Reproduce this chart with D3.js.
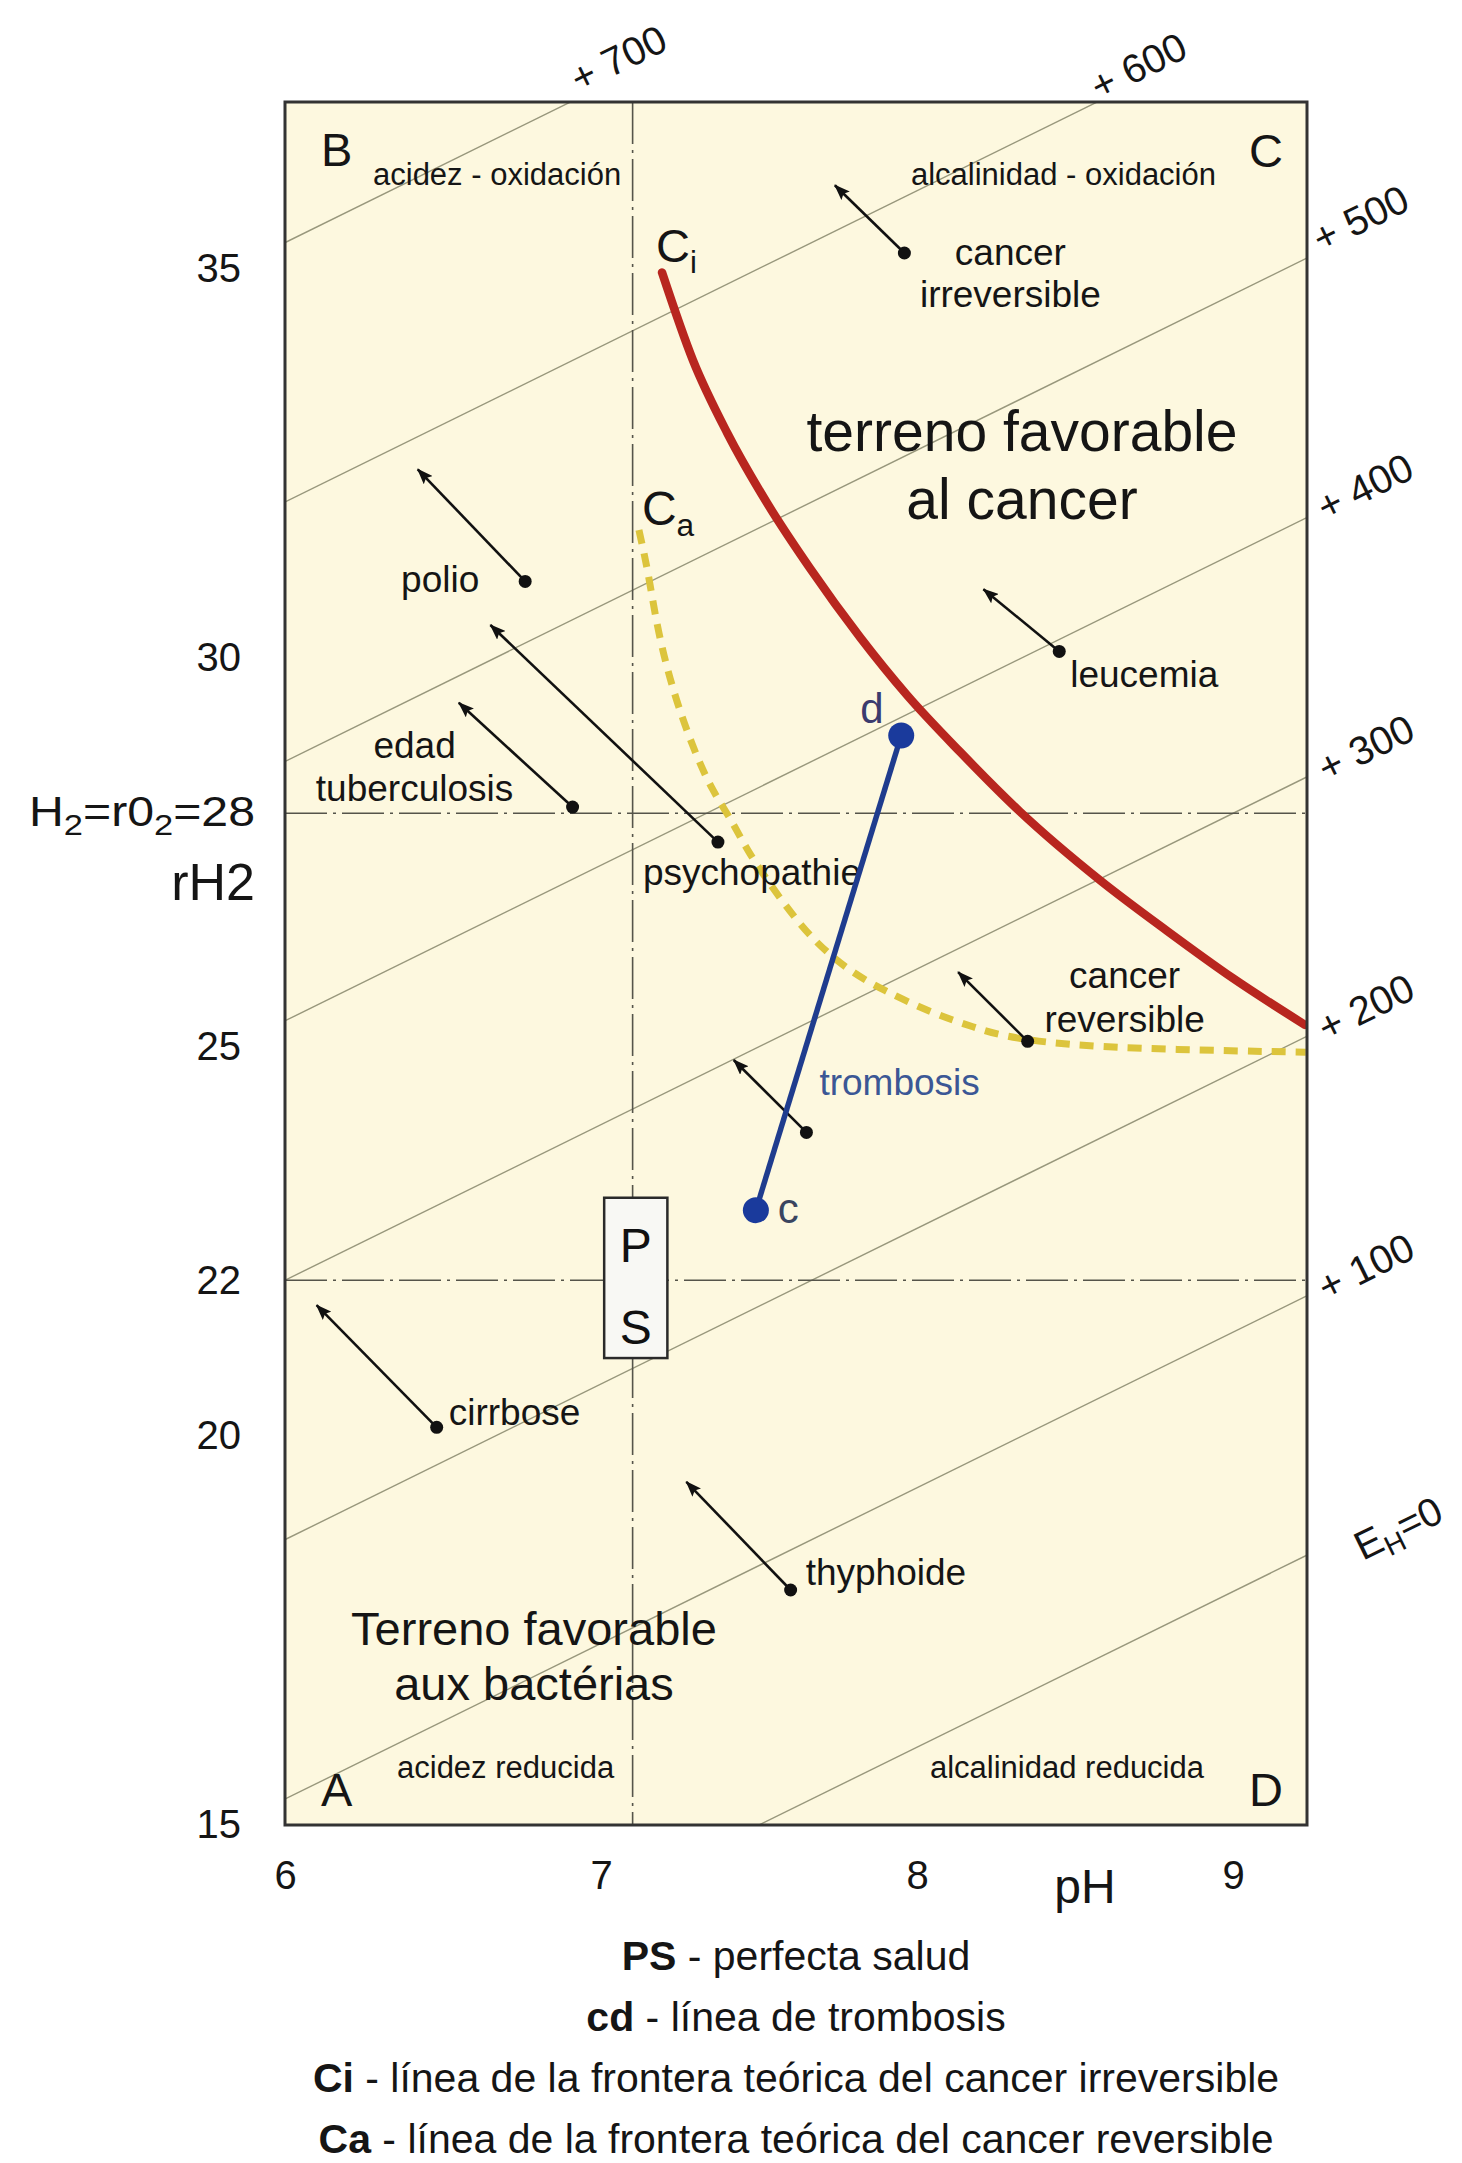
<!DOCTYPE html>
<html>
<head>
<meta charset="utf-8">
<script src="https://cdn.jsdelivr.net/npm/d3@7"></script>
<style>
  body { margin: 0; background: #fff; }
  text { font-family: "Liberation Sans", Arial, Helvetica, sans-serif; }
</style>
</head>
<body>
<div id="chart"></div>
<script>
// --- data ---
var xTicks = [6, 7, 8, 9];
var yTicks = [15, 20, 22, 25, 30, 35];
var neutralPH = 7.1;
var referenceRH = [22, 28];

// Eh isolines, mV  (rH2 = 2 pH + Eh/30)
var ehValues = [0, 100, 200, 300, 400, 500, 600, 700];
var ehNames = ["=0", "+ 100", "+ 200", "+ 300", "+ 400", "+ 500", "+ 600", "+ 700"];
var ehLabelPH = [9.50, 9.42, 9.42, 9.42, 9.42, 9.42, 8.72, 7.08];

// Ci : boundary of irreversible cancer
var ciPH = [7.193, 7.291, 7.399, 7.525, 7.661, 7.820, 7.968, 8.136, 8.326, 8.579, 8.791, 9.000, 9.228];
var ciRH = [34.95, 33.82, 32.89, 31.99, 31.15, 30.26, 29.52, 28.79, 28.02, 27.14, 26.49, 25.88, 25.28];

// Ca : boundary of reversible cancer
var caPH = [7.12, 7.15, 7.18, 7.23, 7.29, 7.35, 7.42, 7.46, 7.57, 7.67, 7.78, 7.89, 8.05, 8.18, 8.29, 8.58, 9.23];
var caRH = [31.64, 31.09, 30.32, 29.54, 28.85, 28.30, 27.87, 27.53, 26.88, 26.37, 25.99, 25.73, 25.43, 25.25, 25.11, 24.98, 24.93];

// cd : line of thrombosis
var cdNames = ["c", "d"];
var cdPH = [7.49, 7.95];
var cdRH = [22.90, 29.00];

// PS : perfect health box
var psPH = [7.01, 7.21];
var psRH = [21.0, 23.06];

// diseases: point + direction of the arrow
var diseaseNames = [["cancer", "irreversible"], ["polio"], ["leucemia"], ["edad", "tuberculosis"],
  ["psychopathie"], ["cancer", "reversible"], ["trombosis"], ["cirrbose"], ["thyphoide"]];
var diseasePH = [7.96, 6.76, 8.45, 6.91, 7.37, 8.35, 7.65, 6.48, 7.60];
var diseaseRH = [35.20, 30.98, 30.08, 28.08, 27.63, 25.07, 23.90, 20.11, 18.02];
var arrowPH = [7.74, 6.42, 8.21, 6.55, 6.65, 8.13, 7.42, 6.10, 7.27];
var arrowRH = [36.07, 32.42, 30.88, 29.42, 30.42, 25.96, 24.83, 21.68, 19.41];

var notes = [["PS", " - perfecta salud"], ["cd", " - línea de trombosis"],
  ["Ci", " - línea de la frontera teórica del cancer irreversible"],
  ["Ca", " - línea de la frontera teórica del cancer reversible"]];

// --- layout ---
var width = 1462, height = 2163;
var svg = d3.select("#chart").append("svg")
    .attr("width", width).attr("height", height)
    .attr("viewBox", [0, 0, width, height]);

var x = d3.scaleLinear().domain([6, 9.234]).range([285, 1307]);
var y = d3.scaleLinear().domain([15, 37.14]).range([1825, 102]);
var x0 = x.range()[0], x1 = x.range()[1], yb = y.range()[0], yt = y.range()[1];

svg.append("defs").append("clipPath").attr("id", "plot")
  .append("rect").attr("x", x0).attr("y", yt).attr("width", x1 - x0).attr("height", yb - yt);

svg.select("defs").append("marker")
    .attr("id", "head").attr("markerUnits", "userSpaceOnUse")
    .attr("markerWidth", 16).attr("markerHeight", 12)
    .attr("refX", 15).attr("refY", 6).attr("orient", "auto")
  .append("path").attr("d", "M0,0L16,6L0,12L3,6Z").attr("fill", "#111");

svg.append("rect")
    .attr("x", x0).attr("y", yt).attr("width", x1 - x0).attr("height", yb - yt)
    .attr("fill", "#fdf8df");

var plot = svg.append("g").attr("clip-path", "url(#plot)");

// Eh isolines
var ehRH = function(ph, eh) { return 2 * ph + eh / 30; };
plot.selectAll(".eh").data(ehValues).join("line")
    .attr("class", "eh")
    .attr("x1", x(5)).attr("y1", function(d) { return y(ehRH(5, d)); })
    .attr("x2", x(10)).attr("y2", function(d) { return y(ehRH(10, d)); })
    .attr("stroke", "#98977c").attr("stroke-width", 1.4);

// neutral / reference lines
plot.append("line")
    .attr("x1", x(neutralPH)).attr("x2", x(neutralPH)).attr("y1", yt).attr("y2", yb)
    .attr("stroke", "#55544a").attr("stroke-width", 1.6).attr("stroke-dasharray", "42,6,3,6");
plot.selectAll(".ref").data(referenceRH).join("line")
    .attr("class", "ref")
    .attr("x1", x0).attr("x2", x1)
    .attr("y1", function(d) { return y(d); }).attr("y2", function(d) { return y(d); })
    .attr("stroke", "#55544a").attr("stroke-width", 1.6).attr("stroke-dasharray", "42,6,3,6");

var curve = d3.line().x(function(d) { return x(d[0]); }).y(function(d) { return y(d[1]); })
    .curve(d3.curveMonotoneX);

plot.append("path").datum(d3.zip(caPH, caRH))
    .attr("d", curve.curve(d3.curveBasis)).attr("fill", "none")
    .attr("stroke", "#dcc43c").attr("stroke-width", 7).attr("stroke-dasharray", "14,10");

plot.append("path").datum(d3.zip(ciPH, ciRH))
    .attr("d", curve.curve(d3.curveMonotoneX)).attr("fill", "none")
    .attr("stroke", "#b8261f").attr("stroke-width", 8.5).attr("stroke-linecap", "round");

// PS box
svg.append("rect")
    .attr("x", x(psPH[0])).attr("y", y(psRH[1]))
    .attr("width", x(psPH[1]) - x(psPH[0])).attr("height", y(psRH[0]) - y(psRH[1]))
    .attr("fill", "#f8f8f4").attr("stroke", "#2a2a2a").attr("stroke-width", 2.5);
var psMid = (x(psPH[0]) + x(psPH[1])) / 2;
svg.append("text").attr("x", psMid).attr("y", y(psRH[1]) + 64).attr("text-anchor", "middle")
    .attr("font-size", 48).attr("fill", "#111").text("P");
svg.append("text").attr("x", psMid).attr("y", y(psRH[0]) - 14).attr("text-anchor", "middle")
    .attr("font-size", 48).attr("fill", "#111").text("S");

// disease arrows
var dis = svg.append("g");
diseaseNames.forEach(function(name, i) {
  dis.append("line")
      .attr("x1", x(diseasePH[i])).attr("y1", y(diseaseRH[i]))
      .attr("x2", x(arrowPH[i])).attr("y2", y(arrowRH[i]))
      .attr("stroke", "#111").attr("stroke-width", 2.6).attr("marker-end", "url(#head)");
  dis.append("circle")
      .attr("cx", x(diseasePH[i])).attr("cy", y(diseaseRH[i])).attr("r", 6.5).attr("fill", "#111");
});

var labelLayout = [
  {anchor: "middle", dx: 106, dy: 12, lh: 42},
  {anchor: "middle", dx: -85, dy: 11},
  {anchor: "start", dx: 11, dy: 36},
  {anchor: "middle", dx: -158, dy: -49, lh: 43},
  {anchor: "start", dx: -75, dy: 43},
  {anchor: "middle", dx: 97, dy: -53, lh: 44},
  {anchor: "start", dx: 13, dy: -37, color: "#3b5795"},
  {anchor: "start", dx: 12, dy: -2},
  {anchor: "start", dx: 15, dy: -5}
];
diseaseNames.forEach(function(lines, i) {
  var L = labelLayout[i];
  lines.forEach(function(t, j) {
    dis.append("text")
        .attr("x", x(diseasePH[i]) + L.dx)
        .attr("y", y(diseaseRH[i]) + L.dy + j * (L.lh || 0))
        .attr("text-anchor", L.anchor)
        .attr("font-size", 37).attr("fill", L.color || "#151515")
        .text(t);
  });
});

// thrombosis line cd
svg.append("line")
    .attr("x1", x(cdPH[0])).attr("y1", y(cdRH[0]))
    .attr("x2", x(cdPH[1])).attr("y2", y(cdRH[1]))
    .attr("stroke", "#1f3c8e").attr("stroke-width", 5.5);
svg.selectAll(".cd").data(d3.range(cdPH.length)).join("circle")
    .attr("class", "cd")
    .attr("cx", function(i) { return x(cdPH[i]); }).attr("cy", function(i) { return y(cdRH[i]); })
    .attr("r", 13).attr("fill", "#1a3a9c");
svg.append("text").attr("x", x(cdPH[0]) + 22).attr("y", y(cdRH[0]) + 13)
    .attr("font-size", 42).attr("fill", "#3a4560").text(cdNames[0]);
svg.append("text").attr("x", x(cdPH[1]) - 41).attr("y", y(cdRH[1]) - 12)
    .attr("font-size", 42).attr("fill", "#3b3b6e").text(cdNames[1]);

// curve names
function subLabel(px, py, main, sub, size) {
  var t = svg.append("text").attr("x", px).attr("y", py).attr("font-size", size).attr("fill", "#151515");
  t.append("tspan").text(main);
  t.append("tspan").attr("font-size", size * 0.66).attr("dy", size * 0.22).text(sub);
}
subLabel(x(ciPH[0]) - 6, y(ciRH[0]) - 10, "C", "i", 47);
subLabel(x(caPH[0]) + 3, y(caRH[0]) - 5, "C", "a", 48);

// region texts
var reg = svg.append("g").attr("fill", "#151515");
reg.append("text").attr("x", 1022).attr("y", 451).attr("text-anchor", "middle").attr("font-size", 57).text("terreno favorable");
reg.append("text").attr("x", 1022).attr("y", 519).attr("text-anchor", "middle").attr("font-size", 57).text("al cancer");
reg.append("text").attr("x", 534).attr("y", 1645).attr("text-anchor", "middle").attr("font-size", 47).text("Terreno favorable");
reg.append("text").attr("x", 534).attr("y", 1700).attr("text-anchor", "middle").attr("font-size", 47).text("aux bactérias");

reg.append("text").attr("x", x0 + 88).attr("y", 185).attr("font-size", 31).text("acidez - oxidación");
reg.append("text").attr("x", x1 - 91).attr("y", 185).attr("text-anchor", "end").attr("font-size", 31).text("alcalinidad - oxidación");
reg.append("text").attr("x", x0 + 112).attr("y", 1778).attr("font-size", 31).text("acidez reducida");
reg.append("text").attr("x", x1 - 103).attr("y", 1778).attr("text-anchor", "end").attr("font-size", 31).text("alcalinidad reducida");

reg.append("text").attr("x", x0 + 36).attr("y", 166).attr("font-size", 47).text("B");
reg.append("text").attr("x", x1 - 24).attr("y", 167).attr("text-anchor", "end").attr("font-size", 47).text("C");
reg.append("text").attr("x", x0 + 36).attr("y", 1806).attr("font-size", 47).text("A");
reg.append("text").attr("x", x1 - 24).attr("y", 1806).attr("text-anchor", "end").attr("font-size", 47).text("D");

// frame
svg.append("rect")
    .attr("x", x0).attr("y", yt).attr("width", x1 - x0).attr("height", yb - yt)
    .attr("fill", "none").attr("stroke", "#333").attr("stroke-width", 3);

// axes
var font = '"Liberation Sans", Arial, Helvetica, sans-serif';
svg.append("g").attr("transform", "translate(" + x0 + ",0)")
    .call(d3.axisLeft(y).tickValues(yTicks).tickFormat(d3.format("d")).tickSize(0).tickPadding(44))
    .call(function(g) { g.select(".domain").remove(); })
    .attr("font-family", font).attr("font-size", 40)
    .selectAll("text").attr("fill", "#151515");
svg.append("g").attr("transform", "translate(0," + yb + ")")
    .call(d3.axisBottom(x).tickValues(xTicks).tickFormat(d3.format("d")).tickSize(0).tickPadding(36))
    .call(function(g) { g.select(".domain").remove(); })
    .attr("font-family", font).attr("font-size", 40)
    .selectAll("text").attr("fill", "#151515");

svg.append("text").attr("x", x(9) - 148).attr("y", yb + 78).attr("text-anchor", "middle")
    .attr("font-size", 48).attr("fill", "#151515").text("pH");
svg.append("text").attr("x", 255).attr("y", y(28) + 87).attr("text-anchor", "end")
    .attr("font-size", 52).attr("fill", "#151515").text("rH2");
var h2 = svg.append("text").attr("x", 255).attr("y", y(28) + 13).attr("text-anchor", "end")
    .attr("font-size", 42).attr("fill", "#151515")
    .attr("textLength", 226).attr("lengthAdjust", "spacingAndGlyphs");
h2.append("tspan").text("H");
h2.append("tspan").attr("font-size", 30).attr("dy", 9).text("2");
h2.append("tspan").attr("dy", -9).text("=r0");
h2.append("tspan").attr("font-size", 30).attr("dy", 9).text("2");
h2.append("tspan").attr("dy", -9).text("=28");

// Eh labels, rotated along the isolines
var angle = Math.atan2(y(ehRH(7, 0)) - y(ehRH(6, 0)), x(7) - x(6)) * 180 / Math.PI;
var ehShift = [-16, 0, 0, 0, 2, 12, 14, 18];
ehValues.forEach(function(eh, i) {
  var px = x(ehLabelPH[i]), py = y(ehRH(ehLabelPH[i], eh));
  var a = angle * Math.PI / 180;
  px += Math.sin(a) * ehShift[i];
  py -= Math.cos(a) * ehShift[i];
  var t = svg.append("text")
      .attr("transform", "translate(" + px + "," + py + ") rotate(" + angle + ")")
      .attr("text-anchor", "middle").attr("dy", "0.35em")
      .attr("font-size", 40).attr("fill", "#151515");
  if (eh === 0) {
    t.append("tspan").text("E");
    t.append("tspan").attr("font-size", 28).attr("dy", 8).text("H");
    t.append("tspan").attr("dy", -8).text(ehNames[i]);
  } else {
    t.text(ehNames[i]);
  }
});

// notes under the chart
var cx = (x0 + x1) / 2;
notes.forEach(function(n, i) {
  var t = svg.append("text").attr("x", cx).attr("y", 1970 + i * 61)
      .attr("text-anchor", "middle").attr("font-size", 41).attr("fill", "#151515");
  t.append("tspan").attr("font-weight", "bold").text(n[0]);
  t.append("tspan").text(n[1]);
});
</script>
</body>
</html>
